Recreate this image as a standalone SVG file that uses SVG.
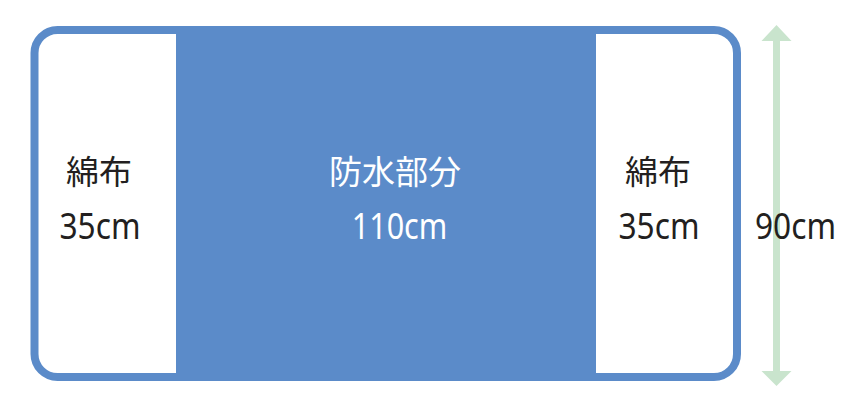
<svg xmlns="http://www.w3.org/2000/svg" width="865" height="403" viewBox="0 0 865 403">
<style>
.t{font-family:"Noto Sans","Noto Sans CJK JP",sans-serif;font-size:36px;text-anchor:middle}
.cjk{font-family:"Noto Sans CJK JP","Noto Sans",sans-serif;font-size:33px;text-anchor:middle}
.dk{fill:#231f20}
.wh{fill:#ffffff}
</style>
<rect width="865" height="403" fill="#ffffff"/>
<g id="frame">
<rect x="34.5" y="30" width="702.5" height="347" rx="23" ry="23" fill="#ffffff" stroke="#5b8bc9" stroke-width="8"/>
</g>
<g id="left-cotton">
<text class="cjk dk" x="99" y="184">綿布</text>
<text class="t dk" x="100" y="239" textLength="81" lengthAdjust="spacingAndGlyphs">35cm</text>
</g>
<g id="waterproof">
<rect x="176" y="30" width="420" height="347" fill="#5b8bc9"/>
<text class="cjk wh" x="395" y="184">防水部分</text>
<text class="t wh" x="399.5" y="239" textLength="95.5" lengthAdjust="spacingAndGlyphs">110cm</text>
</g>
<g id="right-cotton">
<text class="cjk dk" x="658" y="184">綿布</text>
<text class="t dk" x="659" y="239" textLength="81" lengthAdjust="spacingAndGlyphs">35cm</text>
</g>
<g id="connectors">
<rect x="773" y="40" width="7" height="332" fill="#c9e4cd"/>
<polygon points="776.5,25 791.5,41 761.5,41" fill="#c9e4cd"/>
<polygon points="776.5,386 791.5,371 761.5,371" fill="#c9e4cd"/>
</g>
<g id="height-label">
<text class="t dk" x="795.5" y="239" textLength="81" lengthAdjust="spacingAndGlyphs">90cm</text>
</g>
</svg>
